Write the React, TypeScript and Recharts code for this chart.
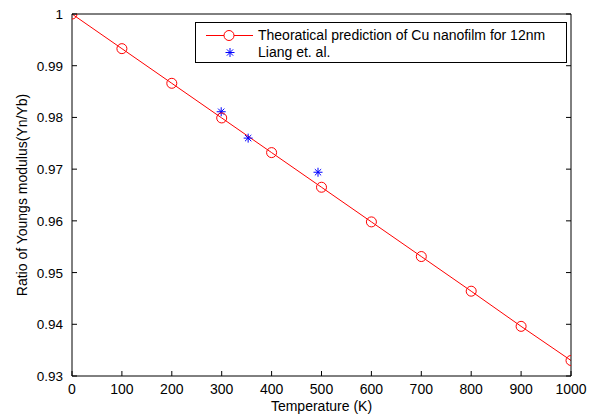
import { ComposedChart, Label, Legend, Line, Scatter, XAxis, YAxis } from "recharts";

const temperature = [0, 100, 200, 300, 400, 500, 600, 700, 800, 900, 1000];
const theoryRatio = [1, 0.9933, 0.9866, 0.9799, 0.9732, 0.9665, 0.9598, 0.9531, 0.9464, 0.9396, 0.933];
const liangTemperature = [299, 353, 493];
const liangRatio = [0.9811, 0.976, 0.9694];

const xTicks = [0, 100, 200, 300, 400, 500, 600, 700, 800, 900, 1000];
const yTicks = [0.93, 0.94, 0.95, 0.96, 0.97, 0.98, 0.99, 1];

const theoryName = "Theoratical prediction of Cu nanofilm for 12nm";
const liangName = "Liang et. al.";
const legendOrder = [theoryName, liangName];

const theoryData = temperature.map((t, i) => ({ t, ratio: theoryRatio[i] }));
const liangData = liangTemperature.map((t, i) => ({ t, ratio: liangRatio[i] }));

const FONT = '"Liberation Sans", Arial, sans-serif';
const RED = "#ff0000";
const BLUE = "#0000ff";
const TICK = 5;

const fmtY = (v: number) => (v === 1 ? "1" : v.toFixed(2));

function BottomTick({ x, y, payload }: any) {
  return (
    <g>
      <line x1={x} x2={x} y1={y} y2={y - TICK} stroke="#000" />
      <text x={x} y={y + 18} textAnchor="middle" fontFamily={FONT} fontSize={14} fill="#000">
        {payload.value}
      </text>
    </g>
  );
}

function LeftTick({ x, y, payload }: any) {
  return (
    <g>
      <line x1={x} x2={x + TICK} y1={y} y2={y} stroke="#000" />
      <text x={x - 9} y={y + 5} textAnchor="end" fontFamily={FONT} fontSize={13.5} fill="#000">
        {fmtY(payload.value)}
      </text>
    </g>
  );
}

function TopTick({ x, y }: any) {
  return <line x1={x} x2={x} y1={y} y2={y + TICK} stroke="#000" />;
}

function RightTick({ x, y }: any) {
  return <line x1={x} x2={x - TICK} y1={y} y2={y} stroke="#000" />;
}

// matlab style '*' marker
function Asterisk({ cx, cy }: any) {
  const r = 4.5;
  const d = r * 0.7;
  return (
    <g stroke={BLUE} strokeWidth={1}>
      <line x1={cx - r} x2={cx + r} y1={cy} y2={cy} />
      <line x1={cx} x2={cx} y1={cy - r} y2={cy + r} />
      <line x1={cx - d} x2={cx + d} y1={cy - d} y2={cy + d} />
      <line x1={cx - d} x2={cx + d} y1={cy + d} y2={cy - d} />
    </g>
  );
}

function LegendBox({ payload }: any) {
  const items = [...(payload ?? [])].sort(
    (a: any, b: any) => legendOrder.indexOf(a.value) - legendOrder.indexOf(b.value)
  );
  return (
    <div
      style={{
        border: "1px solid #000",
        background: "#fff",
        boxSizing: "border-box",
        width: 372,
        height: 41,
        paddingTop: 4,
        fontFamily: FONT,
        fontSize: 14,
        color: "#000",
      }}
    >
      {items.map((entry: any) => (
        <div key={entry.value} style={{ display: "flex", alignItems: "center", height: 17 }}>
          <svg width={62} height={17} style={{ flex: "none" }}>
            {entry.value === theoryName ? (
              <g>
                <line x1={10} x2={57} y1={8.5} y2={8.5} stroke={RED} />
                <circle cx={33} cy={8.5} r={5} fill="#fff" stroke={RED} />
              </g>
            ) : (
              <Asterisk cx={34} cy={8.5} />
            )}
          </svg>
          <span style={{ whiteSpace: "nowrap", lineHeight: "17px" }}>{entry.value}</span>
        </div>
      ))}
    </div>
  );
}

export default function App() {
  return (
    <div style={{ position: "absolute", left: 0, top: 0, background: "#fff" }}>
      <ComposedChart width={590} height={416} margin={{ top: 13, right: 18, bottom: 0, left: 0 }}>
        <XAxis
          dataKey="t"
          type="number"
          domain={[0, 1000]}
          ticks={xTicks}
          interval={0}
          height={40}
          tickSize={0}
          tickMargin={0}
          tickLine={false}
          axisLine={{ stroke: "#000" }}
          tick={<BottomTick />}
          allowDataOverflow
        >
          <Label
            content={({ viewBox }: any) => (
              <text
                x={viewBox.x + viewBox.width / 2}
                y={viewBox.y + 35}
                textAnchor="middle"
                fontFamily={FONT}
                fontSize={14}
                fill="#000"
              >
                Temperature (K)
              </text>
            )}
          />
        </XAxis>
        <XAxis
          xAxisId="top"
          orientation="top"
          type="number"
          domain={[0, 1000]}
          ticks={xTicks}
          interval={0}
          height={1}
          tickSize={0}
          tickMargin={0}
          tickLine={false}
          axisLine={{ stroke: "#000" }}
          tick={<TopTick />}
          allowDataOverflow
        />
        <YAxis
          type="number"
          domain={[0.93, 1]}
          ticks={yTicks}
          interval={0}
          width={72}
          tickSize={0}
          tickMargin={0}
          tickLine={false}
          axisLine={{ stroke: "#000" }}
          tick={<LeftTick />}
          allowDataOverflow
        >
          <Label
            content={({ viewBox }: any) => {
              const cx = viewBox.x + 22;
              const cy = viewBox.y + viewBox.height / 2;
              return (
                <text
                  x={cx}
                  y={cy}
                  transform={`rotate(-90, ${cx}, ${cy})`}
                  textAnchor="middle"
                  dominantBaseline="central"
                  fontFamily={FONT}
                  fontSize={14}
                  fill="#000"
                >
                  Ratio of Youngs modulus(Yn/Yb)
                </text>
              );
            }}
          />
        </YAxis>
        <YAxis
          yAxisId="right"
          orientation="right"
          type="number"
          domain={[0.93, 1]}
          ticks={yTicks}
          interval={0}
          width={1}
          tickSize={0}
          tickMargin={0}
          tickLine={false}
          axisLine={{ stroke: "#000" }}
          tick={<RightTick />}
          allowDataOverflow
        />
        <Legend
          layout="vertical"
          align="center"
          verticalAlign="middle"
          wrapperStyle={{ left: 195, top: 22, width: 372, height: 41 }}
          content={<LegendBox />}
        />
        <Line
          data={theoryData}
          dataKey="ratio"
          name={theoryName}
          stroke={RED}
          strokeWidth={1}
          dot={{ r: 5, fill: "none", stroke: RED, strokeWidth: 1 }}
          activeDot={false}
          isAnimationActive={false}
        />
        <Scatter
          data={liangData}
          dataKey="ratio"
          name={liangName}
          fill={BLUE}
          shape={<Asterisk />}
          isAnimationActive={false}
        />
      </ComposedChart>
    </div>
  );
}
